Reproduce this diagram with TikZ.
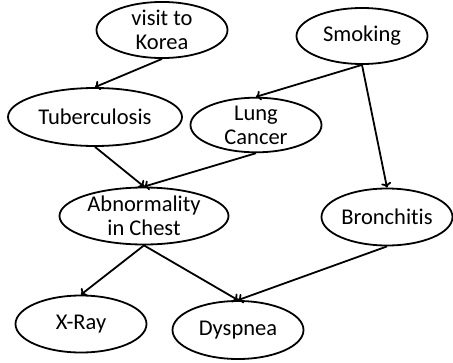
\documentclass[tikz,border=0pt]{standalone}
\usepackage{fontspec}
\setmainfont{Carlito}[Ligatures = NoCommon]
\usetikzlibrary{arrows.meta, shapes.geometric}

\begin{document}
\begin{tikzpicture}[
  x = 1pt, y = -1pt,
  var/.style = {
    shape = ellipse,
    draw = black,
    line width = 1.8pt,
    inner sep = 0pt,
    align = center,
    font = \fontsize{22.5}{24}\selectfont,
    minimum width = 131pt,
    minimum height = 56pt,
  },
  every path/.style = {
    line width = 1.8pt
  },
  link/.style = {
    -{To[length=5pt, width=10pt]}
  }
]
  \useasboundingbox (0, 0) rectangle (453, 362);

  \node[var] (korea) at (162, 30) {visit to\\Korea};
  \node[var] (smoke) at (362, 36) {Smoking};
  \node[var, minimum width = 174pt, minimum height = 58pt] (tub) at (95, 117) {Tuberculosis};
  \node[var, minimum height = 50pt] (lung) at (256, 125) {Lung\\Cancer};
  \node[var, minimum width = 169pt, minimum height = 57pt] (chest) at (144, 216) {Abnormality\\in Chest};
  \node[var, minimum height = 57pt] (bron) at (387, 217) {Bronchitis};
  \node[var, minimum height = 57pt] (xray) at (81, 324) {X-Ray};
  \node[var, minimum height = 58pt] (dysp) at (238, 330) {Dyspnea};

  \draw[link] (korea.south) -- (tub.north);
  \draw[link] (smoke.south) -- (lung.north);
  \draw[link] (smoke.south) -- (bron.north);
  \draw[link] (tub.south) -- (chest.north);
  \draw[link] (lung.south) -- (chest.north);
  \draw[link] (chest.south) -- (xray.north);
  \draw[link] (chest.south) -- (dysp.north);
  \draw[link] (bron.south) -- (dysp.north);
\end{tikzpicture}
\end{document}
